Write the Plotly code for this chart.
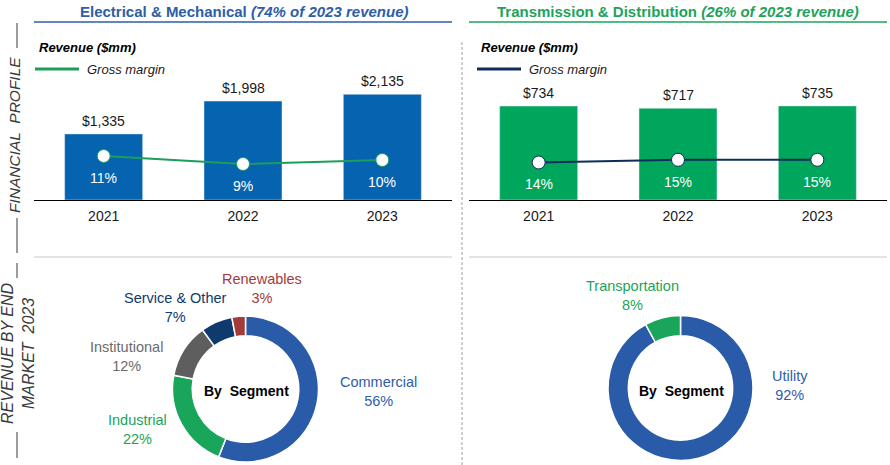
import plotly.graph_objects as go

# ---------------- data ----------------
years = ["2021", "2022", "2023"]
em_revenue = [1335, 1998, 2135]
em_margin = [0.11, 0.09, 0.10]
td_revenue = [734, 717, 735]
td_margin = [0.14, 0.15, 0.15]

em_segments = ["Commercial", "Industrial", "Institutional", "Service & Other", "Renewables"]
em_shares = [56, 22, 12, 7, 3]
td_segments = ["Utility", "Transportation"]
td_shares = [92, 8]

left_title_main = "Electrical & Mechanical"
left_title_sub = "(74% of 2023 revenue)"
right_title_main = "Transmission & Distribution"
right_title_sub = "(26% of 2023 revenue)"

# ---------------- styles ----------------
W, H = 890, 465
FONT = "Arial, Liberation Sans, sans-serif"
BLUE_BAR = "#0563B0"
GREEN_BAR = "#00A65B"
GREEN_LINE = "#1B9E5A"
NAVY_LINE = "#0F2D5C"
TITLE_BLUE = "#2E5EA6"
TITLE_GREEN = "#1DA35B"
em_colors = ["#2A5BA8", "#19A55A", "#5E5E5E", "#0E3A6E", "#A33B3B"]
em_label_colors = ["#2E5EA8", "#19A55A", "#6B6B6B", "#0E3A6E", "#A33B3B"]
td_colors = ["#2A5BA8", "#19A55A"]
td_label_colors = ["#2E5EA8", "#19A55A"]


def px(x):
    return x / W


def py(y):
    return 1 - y / H


y_dom = [py(200), py(40)]

fig = go.Figure()

# Left bars + margin line
fig.add_trace(go.Bar(x=years, y=em_revenue, marker_color=BLUE_BAR, width=0.56,
                     xaxis="x", yaxis="y", showlegend=False, hoverinfo="skip"))
fig.add_trace(go.Scatter(x=years, y=em_margin, mode="lines+markers",
                         line=dict(color=GREEN_LINE, width=2),
                         marker=dict(size=13, color="white", line=dict(color=GREEN_LINE, width=1)),
                         xaxis="x", yaxis="y2", showlegend=False, hoverinfo="skip"))
# Right bars + margin line
fig.add_trace(go.Bar(x=years, y=td_revenue, marker_color=GREEN_BAR, width=0.56,
                     xaxis="x3", yaxis="y3", showlegend=False, hoverinfo="skip"))
fig.add_trace(go.Scatter(x=years, y=td_margin, mode="lines+markers",
                         line=dict(color=NAVY_LINE, width=2),
                         marker=dict(size=13, color="white", line=dict(color=NAVY_LINE, width=1)),
                         xaxis="x3", yaxis="y4", showlegend=False, hoverinfo="skip"))

# Donuts
fig.add_trace(go.Pie(labels=em_segments, values=em_shares, hole=0.73, sort=False,
                     direction="clockwise", rotation=0, textinfo="none",
                     marker=dict(colors=em_colors, line=dict(color="white", width=1.5)),
                     domain=dict(x=[px(172.5), px(318.5)], y=[py(462), py(316)]),
                     showlegend=False, hoverinfo="skip"))
fig.add_trace(go.Pie(labels=td_segments, values=td_shares, hole=0.72, sort=False,
                     direction="clockwise", rotation=0, textinfo="none",
                     marker=dict(colors=td_colors, line=dict(color="white", width=1.5)),
                     domain=dict(x=[px(608), px(753)], y=[py(460.5), py(315.5)]),
                     showlegend=False, hoverinfo="skip"))

axis_common = dict(showgrid=False, zeroline=False, fixedrange=True)
fig.update_layout(
    width=W, height=H, margin=dict(l=0, r=0, t=0, b=0),
    paper_bgcolor="white", plot_bgcolor="rgba(0,0,0,0)",
    font=dict(family=FONT, size=14, color="#1A1A1A"),
    xaxis=dict(domain=[px(34), px(452)], anchor="y", type="category", range=[-0.5, 2.5],
               showline=True, linecolor="black", linewidth=1, ticks="",
               tickfont=dict(size=14, color="#1A1A1A"), ticklabelstandoff=3, **axis_common),
    yaxis=dict(domain=y_dom, range=[0, 3232], visible=False, anchor="x", **axis_common),
    yaxis2=dict(domain=y_dom, range=[0, 0.40], visible=False, overlaying="y", anchor="x", **axis_common),
    xaxis3=dict(domain=[px(469), px(887)], anchor="y3", type="category", range=[-0.5, 2.5],
                showline=True, linecolor="black", linewidth=1, ticks="",
                tickfont=dict(size=14, color="#1A1A1A"), ticklabelstandoff=3, **axis_common),
    yaxis3=dict(domain=y_dom, range=[0, 1250], visible=False, anchor="x3", **axis_common),
    yaxis4=dict(domain=y_dom, range=[0, 0.597], visible=False, overlaying="y3", anchor="x3", **axis_common),
)

ann = []
# Revenue labels above bars (category axes use the category index)
for xr, yr, vals in (("x", "y", em_revenue), ("x3", "y3", td_revenue)):
    for i, v in enumerate(vals):
        ann.append(dict(x=i, y=v, xref=xr, yref=yr, text=f"${v:,}", showarrow=False,
                        yshift=13, xanchor="center", yanchor="middle", font=dict(size=14, color="#1A1A1A")))
# Margin labels below markers
for xr, yr, vals in (("x", "y2", em_margin), ("x3", "y4", td_margin)):
    for i, v in enumerate(vals):
        ann.append(dict(x=i, y=v, xref=xr, yref=yr, text=f"{round(v * 100)}%", showarrow=False,
                        yshift=-22, xanchor="center", yanchor="middle", font=dict(size=14, color="white")))

# Titles
ann.append(dict(x=px(244), y=py(11), xref="paper", yref="paper", showarrow=False,
                text=f"<b>{left_title_main} <i>{left_title_sub}</i></b>",
                font=dict(size=15, color=TITLE_BLUE), xanchor="center", yanchor="middle"))
ann.append(dict(x=px(678), y=py(11), xref="paper", yref="paper", showarrow=False,
                text=f"<b>{right_title_main} <i>{right_title_sub}</i></b>",
                font=dict(size=15, color=TITLE_GREEN), xanchor="center", yanchor="middle"))

# Legends
for x0, col in ((34, GREEN_LINE), (476, NAVY_LINE)):
    ann.append(dict(x=px(x0 + 3), y=py(47), xref="paper", yref="paper", showarrow=False,
                    text="<b><i>Revenue ($mm)</i></b>", xanchor="left", yanchor="middle",
                    font=dict(size=13, color="black")))
    ann.append(dict(x=px(x0 + 51), y=py(69), xref="paper", yref="paper", showarrow=False,
                    text="<i>Gross margin</i>", xanchor="left", yanchor="middle",
                    font=dict(size=13, color="#1A1A1A")))

# Side labels
ann.append(dict(x=px(15), y=py(135), xref="paper", yref="paper", showarrow=False,
                text="<i>FINANCIAL  PROFILE</i>", textangle=-90, xanchor="center", yanchor="middle",
                font=dict(size=15.5, color="#3A3A3A")))
ann.append(dict(x=px(18), y=py(353), xref="paper", yref="paper", showarrow=False,
                text="<i>REVENUE BY END<br>MARKET  2023</i>", textangle=-90, xanchor="center",
                yanchor="middle", align="center", font=dict(size=16, color="#3A3A3A")))

# Donut labels
em_pos = [(378, 391.5), (137, 429.5), (126, 356.5), (175, 307.5), (262, 288.5)]
for name, share, col, (lx, ly) in zip(em_segments, em_shares, em_label_colors, em_pos):
    ann.append(dict(x=px(lx), y=py(ly), xref="paper", yref="paper", showarrow=False,
                    text=f"{name}<br>{share}%", align="center", xanchor="center", yanchor="middle",
                    font=dict(size=14.5, color=col)))
td_pos = [(790, 385.5), (632, 295.5)]
for name, share, col, (lx, ly) in zip(td_segments, td_shares, td_label_colors, td_pos):
    ann.append(dict(x=px(lx), y=py(ly), xref="paper", yref="paper", showarrow=False,
                    text=f"{name}<br>{share}%", align="center", xanchor="center", yanchor="middle",
                    font=dict(size=14.5, color=col)))
for cx in (246, 681):
    ann.append(dict(x=px(cx), y=py(391), xref="paper", yref="paper", showarrow=False,
                    text="<b>By  Segment</b>", xanchor="center", yanchor="middle",
                    font=dict(size=14, color="black")))

fig.update_layout(annotations=ann)

shapes = []
# title underlines
shapes.append(dict(type="line", xref="paper", yref="paper", x0=px(34), x1=px(452), y0=py(22), y1=py(22),
                   line=dict(color=TITLE_BLUE, width=1.5)))
shapes.append(dict(type="line", xref="paper", yref="paper", x0=px(469), x1=px(887), y0=py(22), y1=py(22),
                   line=dict(color=TITLE_GREEN, width=1.5)))
# legend lines
shapes.append(dict(type="line", xref="paper", yref="paper", x0=px(35), x1=px(79), y0=py(69), y1=py(69),
                   line=dict(color=GREEN_LINE, width=3)))
shapes.append(dict(type="line", xref="paper", yref="paper", x0=px(477), x1=px(521), y0=py(69), y1=py(69),
                   line=dict(color=NAVY_LINE, width=3)))
# section separators
for a, b in ((34, 452), (469, 887)):
    shapes.append(dict(type="line", xref="paper", yref="paper", x0=px(a), x1=px(b), y0=py(257), y1=py(257),
                       line=dict(color="#C8C8C8", width=1)))
# vertical dashed divider
shapes.append(dict(type="line", xref="paper", yref="paper", x0=px(462), x1=px(462), y0=py(42), y1=py(465),
                   line=dict(color="#A0A0A0", width=1, dash="3px,2px")))
# side label tick lines
for a, b in ((23, 48), (218, 253), (263, 278), (432, 458)):
    shapes.append(dict(type="line", xref="paper", yref="paper", x0=px(17), x1=px(17), y0=py(a), y1=py(b),
                       line=dict(color="#3A3A3A", width=1)))
fig.update_layout(shapes=shapes)

fig.write_html("out.html", config={"displayModeBar": False},
               post_script="document.body.style.margin='0';")
